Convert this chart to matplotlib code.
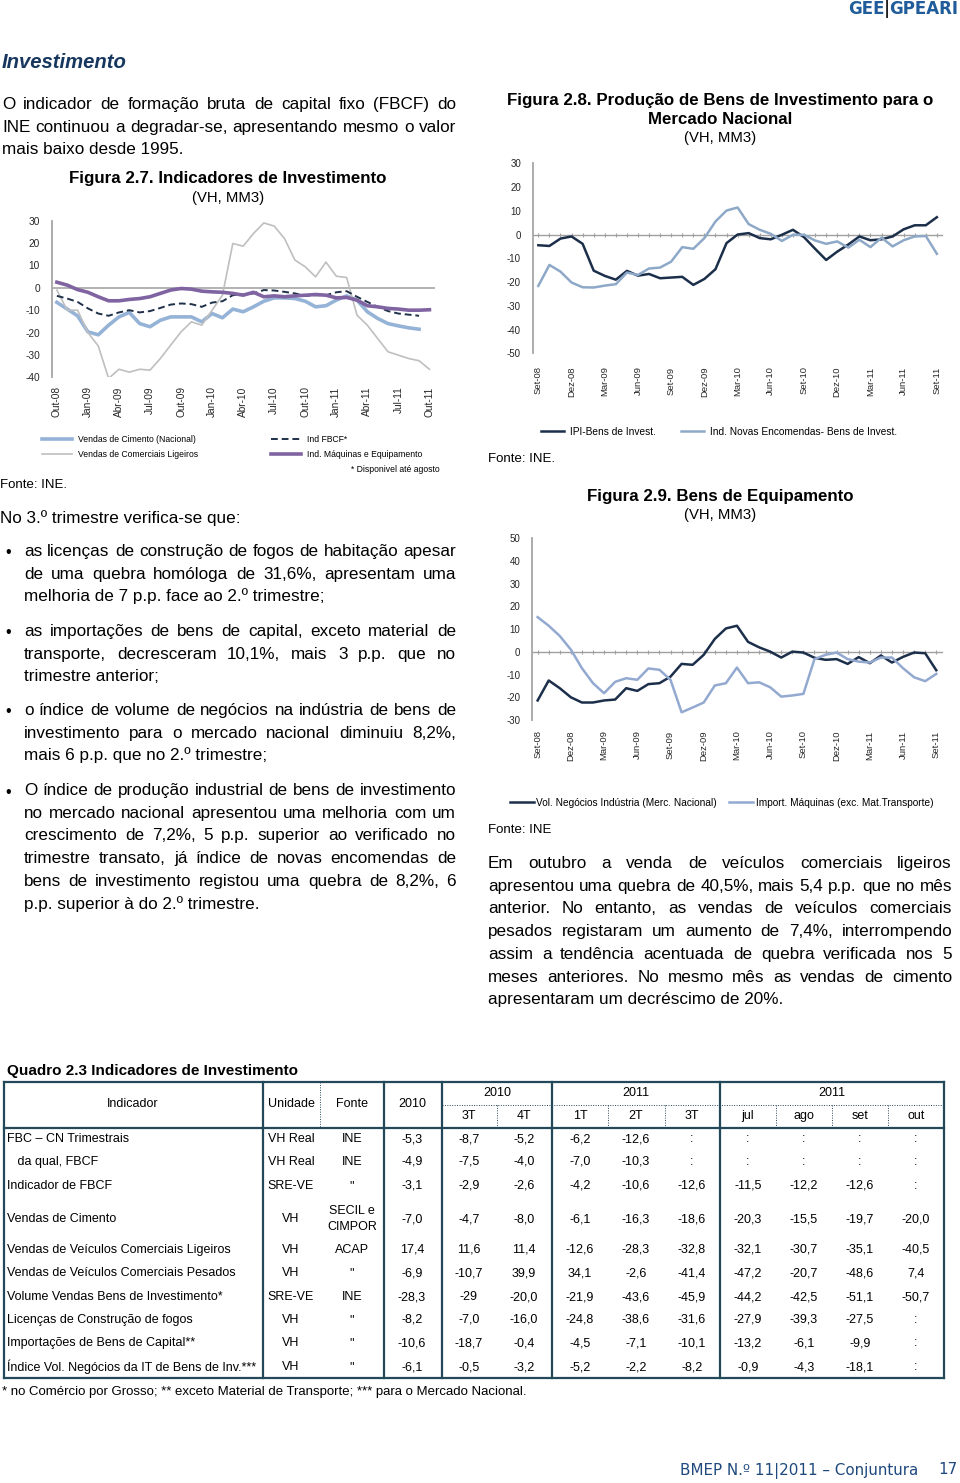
import matplotlib
matplotlib.use("Agg")
import matplotlib.pyplot as plt
from matplotlib.lines import Line2D
import numpy as np

W, H = 960, 1483
plt.rcParams['font.family'] = ['Liberation Sans', 'DejaVu Sans']
plt.rcParams['axes.unicode_minus'] = False

# ---------------- dados ----------------
lbl_27 = ["Out-08", "Jan-09", "Abr-09", "Jul-09", "Out-09", "Jan-10", "Abr-10",
          "Jul-10", "Out-10", "Jan-11", "Abr-11", "Jul-11", "Out-11"]
cimento = [-6.5, -9.5, -12.5, -19.7, -21, -16.7, -13, -11, -16, -17.4, -14.5, -13,
           -13, -13, -15.2, -11.5, -13.4, -9.5, -10.7, -8.5, -6, -4.5, -4.5, -4.8,
           -6, -8.5, -8, -5.5, -3.6, -5.5, -10.7, -13.7, -16, -17, -17.9, -18.5]
ligeiros = [-1, -10, -10, -20, -26, -40.5, -36.4, -37.7, -36.4, -36.8, -31.6, -25.6,
            -19.7, -15.2, -16.7, -10, -3.3, 19.8, 18.6, 24.3, 29, 27.6, 22, 12.4,
            9.4, 4.9, 11.5, 5.2, 4.6, -12.2, -16.7, -22.7, -28.6, -30.1, -31.6,
            -32.6, -36.4]
ind_fbcf = [-3.6, -4.8, -6.3, -9.2, -11.5, -12.5, -11, -10, -11, -10.4, -9, -7.5,
            -7, -7.3, -8.5, -6.6, -6, -3.3, -3, -2.5, -1, -1.2, -1.8, -2.5, -3.6,
            -3.3, -3.3, -2, -1.5, -4, -6.3, -8.5, -10.4, -11.5, -12, -12.5]
maquinas = [2.5, 1.2, -0.8, -2, -4, -5.8, -5.8, -5.2, -4.8, -4, -2.5, -1, -0.3,
            -0.6, -1.5, -1.8, -2, -2.5, -3.3, -2, -4, -3.6, -4, -3.6, -3.3, -3,
            -3.3, -4.5, -4.3, -5.5, -8, -8.5, -9.2, -9.5, -10, -10, -9.8]

lbl_28 = ["Set-08", "Dez-08", "Mar-09", "Jun-09", "Set-09", "Dez-09", "Mar-10",
          "Jun-10", "Set-10", "Dez-10", "Mar-11", "Jun-11", "Set-11"]
ipi_bi = [-4.5, -4.8, -1.7, -0.8, -3.9, -15.2, -17.4, -19, -15.3, -17.3, -16.6,
          -18.4, -18.1, -17.8, -21.2, -18.7, -14.6, -3.6, 0, 0.6, -1.5, -2, -0.1,
          2, -1.1, -6, -10.7, -7.2, -4.2, -0.8, -2.4, -2, -0.8, 2.2, 3.9, 3.9, 7.3]
encomendas = [-21.6, -12.8, -15.6, -20.2, -22.2, -22.3, -21.5, -20.9, -16, -17,
              -14.3, -13.9, -11.4, -5.3, -6, -1.5, 5.5, 10.1, 11.4, 4.4, 2, 0.3,
              -2.7, -0.1, -0.1, -2.5, -3.9, -2.9, -5.5, -2.2, -5.3, -1.3, -5, -2.4,
              -0.8, -0.6, -8.1]

vol_negocios = [-21.4, -12.6, -16, -20, -22.3, -22.3, -21.4, -21, -16, -17.2,
                -14.2, -13.8, -10.9, -5.3, -5.7, -1.3, 5.7, 10.3, 11.5, 4.4, 2,
                0.1, -2.5, 0.1, -0.3, -2.6, -3.5, -3.2, -5.3, -2.3, -5, -1.6, -4.7,
                -2.2, -0.3, -0.6, -8.1]
import_maq = [15.3, 11.5, 7, 1, -7.2, -13.8, -18.2, -13.2, -11.6, -12.3, -7.3,
              -7.9, -12.3, -26.6, -24.5, -22.3, -14.8, -13.8, -6.9, -13.8, -13.4,
              -15.6, -19.7, -19.2, -18.5, -3.2, -1.3, -0.3, -3.2, -4.3, -4.7, -2.5,
              -2.5, -7.2, -11.2, -12.9, -9.7]

tab_ind = ["FBC \u2013 CN Trimestrais", "   da qual, FBCF", "Indicador de FBCF",
           "Vendas de Cimento", "Vendas de Veículos Comerciais Ligeiros",
           "Vendas de Veículos Comerciais Pesados",
           "Volume Vendas Bens de Investimento*",
           "Licenças de Construção de fogos", "Importações de Bens de Capital**",
           "Índice Vol. Negócios da IT de Bens de Inv.***"]
tab_uni = ["VH Real", "VH Real", "SRE-VE", "VH", "VH", "VH", "SRE-VE", "VH", "VH", "VH"]
tab_fonte = ["INE", "INE", '"', "SECIL e\nCIMPOR", "ACAP", '"', "INE", '"', '"', '"']
tab_cols = ["2010", "3T", "4T", "1T", "2T", "3T", "jul", "ago", "set", "out"]
tab_val = [
    ["-5,3", "-8,7", "-5,2", "-6,2", "-12,6", ":", ":", ":", ":", ":"],
    ["-4,9", "-7,5", "-4,0", "-7,0", "-10,3", ":", ":", ":", ":", ":"],
    ["-3,1", "-2,9", "-2,6", "-4,2", "-10,6", "-12,6", "-11,5", "-12,2", "-12,6", ":"],
    ["-7,0", "-4,7", "-8,0", "-6,1", "-16,3", "-18,6", "-20,3", "-15,5", "-19,7", "-20,0"],
    ["17,4", "11,6", "11,4", "-12,6", "-28,3", "-32,8", "-32,1", "-30,7", "-35,1", "-40,5"],
    ["-6,9", "-10,7", "39,9", "34,1", "-2,6", "-41,4", "-47,2", "-20,7", "-48,6", "7,4"],
    ["-28,3", "-29", "-20,0", "-21,9", "-43,6", "-45,9", "-44,2", "-42,5", "-51,1", "-50,7"],
    ["-8,2", "-7,0", "-16,0", "-24,8", "-38,6", "-31,6", "-27,9", "-39,3", "-27,5", ":"],
    ["-10,6", "-18,7", "-0,4", "-4,5", "-7,1", "-10,1", "-13,2", "-6,1", "-9,9", ":"],
    ["-6,1", "-0,5", "-3,2", "-5,2", "-2,2", "-8,2", "-0,9", "-4,3", "-18,1", ":"],
]

par1 = ["O indicador de formação bruta de capital fixo (FBCF) do",
        "INE continuou a degradar-se, apresentando mesmo o valor",
        "mais baixo desde 1995."]
bullets = [
    ["as licenças de construção de fogos de habitação apesar",
     "de uma quebra homóloga de 31,6%, apresentam uma",
     "melhoria de 7 p.p. face ao 2.º trimestre;"],
    ["as importações de bens de capital, exceto material de",
     "transporte, decresceram 10,1%, mais 3 p.p. que no",
     "trimestre anterior;"],
    ["o índice de volume de negócios na indústria de bens de",
     "investimento para o mercado nacional diminuiu 8,2%,",
     "mais 6 p.p. que no 2.º trimestre;"],
    ["O índice de produção industrial de bens de investimento",
     "no mercado nacional apresentou uma melhoria com um",
     "crescimento de 7,2%, 5 p.p. superior ao verificado no",
     "trimestre transato, já índice de novas encomendas de",
     "bens de investimento registou uma quebra de 8,2%, 6",
     "p.p. superior à do 2.º trimestre."],
]
par2 = ["Em outubro a venda de veículos comerciais ligeiros",
        "apresentou uma quebra de 40,5%, mais 5,4 p.p. que no mês",
        "anterior. No entanto, as vendas de veículos comerciais",
        "pesados registaram um aumento de 7,4%, interrompendo",
        "assim a tendência acentuada de quebra verificada nos 5",
        "meses anteriores. No mesmo mês as vendas de cimento",
        "apresentaram um decréscimo de 20%."]

fig = plt.figure(figsize=(W / 100, H / 100), dpi=100)
renderer = fig.canvas.get_renderer()


def fx(x):
    return x / W


def fy(y):
    return 1 - y / H


def txt(x, y, s, size, **kw):
    kw.setdefault('va', 'center')
    return fig.text(fx(x), fy(y), s, fontsize=size, **kw)


def justify(lines, x0, x1, y0, dy, size):
    # y0 = centro visual da primeira linha; texto assente na linha de base
    for i, line in enumerate(lines):
        yb = y0 + i * dy + 6
        words = line.split(' ')
        if i == len(lines) - 1:
            txt(x0, yb, line, size, va='baseline')
            continue
        ts = [txt(0, yb, w, size, va='baseline') for w in words]
        ws = [t.get_window_extent(renderer).width for t in ts]
        gap = (x1 - x0 - sum(ws)) / (len(words) - 1)
        x = x0
        for t, w in zip(ts, ws):
            t.set_x(fx(x))
            x += w + gap


def add_ax(x0, y0, x1, y1):
    return fig.add_axes([fx(x0), fy(y1), (x1 - x0) / W, (y1 - y0) / H])


def style(ax, ylim, step, labels, ysize, xsize, ypad, xpad):
    ax.set_xlim(-0.5, 36.5)
    ax.set_ylim(*ylim)
    ax.set_yticks(range(ylim[0], ylim[1] + 1, step))
    ax.tick_params(axis='y', length=0, pad=ypad, labelsize=ysize, colors='#262626')
    ax.set_xticks(range(0, 37, 3))
    ax.set_xticklabels(labels, rotation=90)
    ax.tick_params(axis='x', length=0, pad=xpad, labelsize=xsize, colors='#262626')
    for s in ['top', 'right', 'bottom']:
        ax.spines[s].set_visible(False)
    ax.spines['left'].set_color('#A6A6A6')
    ax.spines['left'].set_linewidth(1.3)
    ax.patch.set_alpha(0)


def zero_ticks(ax, ylim):
    sec = ax.secondary_xaxis((0 - ylim[0]) / (ylim[1] - ylim[0]))
    sec.set_xticks(range(37))
    sec.set_xticklabels([])
    sec.tick_params(length=3, direction='inout', color='#A0A0A0', width=0.8)
    for s in sec.spines.values():
        s.set_color('#A0A0A0')
        s.set_linewidth(1.0)


# ---------------- cabeçalho ----------------
hx = 958
for part, col in [("GPEARI", '#1F5C99'), ("|", '#222222'), ("GEE", '#1F5C99')]:
    t = txt(hx, 9, part, 12, ha='right', weight='bold', color=col, family='DejaVu Sans')
    hx -= t.get_window_extent(renderer).width - 1
txt(2, 62, "Investimento", 14.6, weight='bold', style='italic', color='#17375E')

body = 12.3
justify(par1, 2, 456, 103, 22.7, body)

# ---------------- Figura 2.7 ----------------
txt(228, 179, "Figura 2.7. Indicadores de Investimento", 12.2, ha='center', weight='bold')
txt(228, 198, "(VH, MM3)", 10.7, ha='center')
ax = add_ax(51.7, 220.7, 434.6, 377.3)
style(ax, (-40, 30), 10, lbl_27, 7.3, 7.3, 8.5, 6.5)
ax.axhline(0, color='#A6A6A6', lw=1.2, zorder=1)
h1, = ax.plot(range(len(cimento)), cimento, color='#95B3D7', lw=2.6,
              solid_joinstyle='round', label='Vendas de Cimento (Nacional)')
h2, = ax.plot(range(len(ligeiros)), ligeiros, color='#BFBFBF', lw=1.2,
              label='Vendas de Comerciais Ligeiros')
h3, = ax.plot(range(len(ind_fbcf)), ind_fbcf, color='#1F3049', lw=1.4,
              dashes=(3.5, 2), label='Ind FBCF*')
h4, = ax.plot(range(len(maquinas)), maquinas, color='#8064A2', lw=2.6,
              solid_joinstyle='round', label='Ind. Máquinas e Equipamento')
fig.legend(handles=[h1, h2, h3, h4], ncol=2, loc='upper left',
           bbox_to_anchor=(fx(42), fy(435)), frameon=False, fontsize=6.2,
           handlelength=3.5, handletextpad=0.7, columnspacing=8.4,
           labelspacing=0.75, borderpad=0, borderaxespad=0)
txt(440, 470, "* Disponivel até agosto", 6.2, ha='right')
txt(0, 485, "Fonte: INE.", 9.5)

txt(0, 523, "No 3.º trimestre verifica-se que:", body, va='baseline')
ys = [550, 630, 709, 789]
for y, b in zip(ys, bullets):
    txt(8, y + 3, "\u2022", 11.5, ha='center')
    justify(b, 24, 456, y, 22.7, body)

# ---------------- Figura 2.8 ----------------
txt(720, 100, "Figura 2.8. Produção de Bens de Investimento para o", 12.2,
    ha='center', weight='bold')
txt(720, 119, "Mercado Nacional", 12.2, ha='center', weight='bold')
txt(720, 138, "(VH, MM3)", 10.7, ha='center')
ax = add_ax(532.8, 163.3, 942.4, 353.3)
style(ax, (-50, 30), 10, lbl_28, 7, 6.8, 8.5, 9.5)
zero_ticks(ax, (-50, 30))
g1, = ax.plot(range(37), ipi_bi, color='#1C2F4A', lw=1.8, label='IPI-Bens de Invest.')
g2, = ax.plot(range(37), encomendas, color='#8EA9C8', lw=1.8,
              label='Ind. Novas Encomendas- Bens de Invest.')
fig.legend(handles=[g1, g2], ncol=2, loc='upper left',
           bbox_to_anchor=(fx(541), fy(427)), frameon=False, fontsize=7.3,
           handlelength=2.3, handletextpad=0.6, columnspacing=2.4,
           borderpad=0, borderaxespad=0)
txt(488, 459, "Fonte: INE.", 9.5)

# ---------------- Figura 2.9 ----------------
txt(720, 496, "Figura 2.9. Bens de Equipamento", 12.2, ha='center', weight='bold')
txt(720, 515, "(VH, MM3)", 10.7, ha='center')
ax = add_ax(532.1, 538.3, 941.8, 720)
style(ax, (-30, 50), 10, lbl_28, 7, 6.8, 8.5, 7.5)
zero_ticks(ax, (-30, 50))
k1, = ax.plot(range(37), vol_negocios, color='#1C2F4A', lw=1.8,
              label='Vol. Negócios Indústria (Merc. Nacional)')
k2, = ax.plot(range(37), import_maq, color='#93A9D0', lw=1.8,
              label='Import. Máquinas (exc. Mat.Transporte)')
fig.legend(handles=[k1, k2], ncol=2, loc='upper left',
           bbox_to_anchor=(fx(510), fy(798)), frameon=False, fontsize=7.3,
           handlelength=2.4, handletextpad=0.2, columnspacing=1.2,
           borderpad=0, borderaxespad=0)
txt(488, 830, "Fonte: INE", 9.5)

justify(par2, 488, 952, 862, 22.7, body)

# ---------------- Quadro 2.3 ----------------
txt(7, 1071, "Quadro 2.3 Indicadores de Investimento", 11, weight='bold')
teal = '#23485A'
tl, tr, tt, tb = 4, 944, 1082, 1378


def hline(y, x0, x1, **kw):
    fig.add_artist(Line2D([fx(x0), fx(x1)], [fy(y), fy(y)], color=teal, **kw))


def vline(x, y0, y1, **kw):
    fig.add_artist(Line2D([fx(x), fx(x)], [fy(y0), fy(y1)], color=teal, **kw))


hline(tt, tl, tr, lw=1.6)
hline(tb, tl, tr, lw=1.6)
hline(1128, tl, tr, lw=1.6)
hline(1105, 442, tr, lw=0.7, ls=(0, (1, 1.5)))
for x in [tl, 263, 384, 442, 552, 720, tr]:
    vline(x, tt, tb, lw=1.6)
vline(320, tt, 1128, lw=0.7, ls=(0, (1, 1.5)))
for x in [497, 608, 665, 776, 832, 888]:
    vline(x, 1105, 1128, lw=0.7, ls=(0, (1, 1.5)))

fs = 9
txt(133, 1104, "Indicador", fs, ha='center')
txt(291, 1104, "Unidade", fs, ha='center')
txt(352, 1104, "Fonte", fs, ha='center')
col_x = [412, 469, 524, 580, 636, 692, 748, 804, 860, 916]
txt(col_x[0], 1104, tab_cols[0], fs, ha='center')
for gx, gname in [(497, "2010"), (636, "2011"), (832, "2011")]:
    txt(gx, 1093, gname, fs, ha='center')
for cx, cname in zip(col_x[1:], tab_cols[1:]):
    txt(cx, 1116, cname, fs, ha='center')

row_y = [1139, 1162, 1186, 1219, 1250, 1273, 1297, 1320, 1343, 1367]
for ry, name, uni, fon, vals in zip(row_y, tab_ind, tab_uni, tab_fonte, tab_val):
    txt(7, ry, name, fs)
    txt(291, ry, uni, fs, ha='center')
    txt(352, ry, fon, fs, ha='center', linespacing=1.45)
    for cx, v in zip(col_x, vals):
        txt(cx, ry, v, fs, ha='center')

txt(2, 1392, "* no Comércio por Grosso; ** exceto Material de Transporte; "
    "*** para o Mercado Nacional.", 9.5)

# ---------------- rodapé ----------------
txt(918, 1471, "BMEP N.º 11|2011 \u2013 Conjuntura", 10.9, ha='right',
    color='#1F497D', family='DejaVu Sans')
txt(958, 1470, "17", 10.9, ha='right', color='#1F497D', family='DejaVu Sans')

fig.savefig("out.png", dpi=100)
